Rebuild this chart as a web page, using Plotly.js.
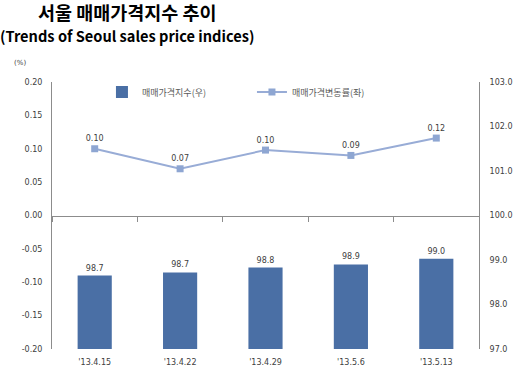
<!DOCTYPE html>
<html>
<head>
<meta charset="utf-8">
<script src="https://cdn.plot.ly/plotly-3.0.1.min.js"></script>
<style>
html,body{margin:0;padding:0;background:#fff;}
#chart{width:520px;height:373px;}
</style>
</head>
<body>
<div id="chart"></div>
<script>
// ---- data ----
const categories = ["'13.4.15", "'13.4.22", "'13.4.29", "'13.5.6", "'13.5.13"];
const indexValues = [98.65, 98.72, 98.83, 98.90, 99.03];   // 매매가격지수 (right axis)
const changeRates = [0.10, 0.07, 0.098, 0.09, 0.116];     // 매매가격변동률 (left axis, %)
const indexName = "매매가격지수(우)";
const changeName = "매매가격변동률(좌)";
const leftTicks = [-0.20, -0.15, -0.10, -0.05, 0.00, 0.05, 0.10, 0.15, 0.20];
const rightTicks = [97, 98, 99, 100, 101, 102, 103];
const titleKo = "서울 매매가격지수 추이";
const titleEn = "(Trends of Seoul sales price indices)";
const unitLabel = "(%)";

const numFont = "DejaVu Sans, Liberation Sans, sans-serif";
const koFont = "Noto Sans CJK KR, Noto Sans, sans-serif";
const axisGray = "#8c8c8c";

const traces = [
  {
    type: "bar",
    name: indexName,
    x: categories,
    y: indexValues,
    yaxis: "y",
    xaxis: "x",
    marker: {color: "#4a6fa5"},
    text: indexValues.map(v => v.toFixed(1)),
    textposition: "outside",
    cliponaxis: true,
    textfont: {family: numFont, size: 8, color: "#404040"},
    hoverinfo: "x+y"
  },
  {
    type: "scatter",
    mode: "lines+markers+text",
    name: changeName,
    x: categories,
    y: changeRates,
    yaxis: "y2",
    xaxis: "x",
    line: {color: "#98acd6", width: 2},
    marker: {symbol: "square", size: 7, color: "#8ea6d2"},
    text: changeRates.map(v => v.toFixed(2)),
    textposition: "top center",
    cliponaxis: false,
    textfont: {family: numFont, size: 8, color: "#404040"}
  },
  {
    // invisible trace carrying the zero-line tick axis
    type: "scatter",
    mode: "none",
    x: categories,
    y: changeRates,
    xaxis: "x2",
    yaxis: "y2",
    showlegend: false,
    hoverinfo: "skip"
  }
];

const layout = {
  width: 520,
  height: 373,
  margin: {l: 52, r: 41, t: 82, b: 24, pad: 0},
  paper_bgcolor: "#ffffff",
  plot_bgcolor: "#ffffff",
  bargap: 0.6,
  showlegend: true,
  legend: {
    orientation: "h",
    x: 0.117, xanchor: "left",
    y: 0.9625, yanchor: "middle",
    entrywidth: 105, entrywidthmode: "pixels",
    font: {family: koFont, size: 9, color: "#595959"},
    bgcolor: "rgba(0,0,0,0)",
    traceorder: "normal"
  },
  xaxis: {
    type: "category",
    range: [-0.5, 4.5],
    showline: false,
    ticks: "",
    showgrid: false,
    zeroline: false,
    tickfont: {family: numFont, size: 8, color: "#404040"},
    ticklabelstandoff: 7,
    fixedrange: true
  },
  xaxis2: {
    type: "category",
    overlaying: "x",
    matches: "x",
    anchor: "free",
    position: 0.5,
    showline: true,
    linecolor: axisGray,
    linewidth: 1,
    ticks: "outside",
    tickson: "boundaries",
    ticklen: 5,
    tickcolor: axisGray,
    showticklabels: false,
    showgrid: false,
    zeroline: false
  },
  yaxis: {
    side: "right",
    range: [97, 103],
    tickvals: rightTicks,
    ticktext: rightTicks.map(v => v.toFixed(1)),
    showline: true,
    linecolor: axisGray,
    linewidth: 1,
    ticks: "",
    showgrid: false,
    zeroline: false,
    tickfont: {family: numFont, size: 8, color: "#404040"},
    ticklabelstandoff: 8,
    automargin: false
  },
  yaxis2: {
    side: "left",
    overlaying: "y",
    range: [-0.2, 0.2],
    tickvals: leftTicks,
    ticktext: leftTicks.map(v => v.toFixed(2)),
    showline: true,
    linecolor: axisGray,
    linewidth: 1,
    ticks: "",
    showgrid: false,
    zeroline: false,
    tickfont: {family: numFont, size: 8, color: "#404040"},
    ticklabelstandoff: 7,
    automargin: false
  },
  annotations: [
    {
      text: "<b>" + titleKo + "</b>",
      xref: "paper", yref: "paper",
      x: (127 - 52) / 427, y: (349 - 12.5) / 267,
      xanchor: "center", yanchor: "middle",
      borderpad: 0,
      showarrow: false,
      font: {family: koFont, size: 18.5, color: "#000"}
    },
    {
      text: "<b>" + titleEn + "</b>",
      xref: "paper", yref: "paper",
      x: (127 - 52) / 427, y: (349 - 35.5) / 267,
      xanchor: "center", yanchor: "middle",
      borderpad: 0,
      showarrow: false,
      font: {family: koFont, size: 14.6, color: "#000"}
    },
    {
      text: unitLabel,
      xref: "paper", yref: "paper",
      x: (20 - 52) / 427, y: (349 - 63) / 267,
      xanchor: "center", yanchor: "middle",
      showarrow: false,
      font: {family: numFont, size: 7, color: "#404040"}
    }
  ]
};

Plotly.newPlot("chart", traces, layout, {displayModeBar: false, staticPlot: true});
</script>
</body>
</html>
